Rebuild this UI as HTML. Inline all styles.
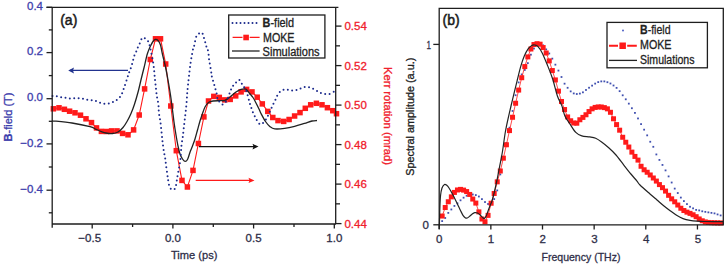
<!DOCTYPE html>
<html><head><meta charset="utf-8"><style>
html,body{margin:0;padding:0;background:#fff;overflow:hidden}
svg{display:block}
text{font-family:"Liberation Sans",sans-serif}
</style></head><body>
<svg width="725" height="265" viewBox="0 0 725 265">
<rect width="725" height="265" fill="#fff"/>
<path d="M53.4,108.8 L59,107.8 L64.4,109.3 L69.6,111.2 L75,112.8 L80.5,115.2 L86,118.8 L91.5,122.6 L96.5,127.9 L101.4,131.4 L106.5,131.5 L111.6,130.9 L117,130.9 L122.6,133.4 L128,134.8 L133.6,129.9 L139.2,115 L144.6,88.9 L150.3,59.5 L155.5,38.8 L160.5,38.8 L165.7,64 L170.8,106 L176.3,150.7 L182,180.4 L187.4,187 L193,170.4 L198.4,143.5 L203.9,116.9 L208.5,101 L213.8,96.4 L219.3,97.4 L224.8,99.9 L230.2,99.4 L235.7,95.9 L241.1,91.9 L246.6,89.4 L252,91.9 L257.2,97.2 L262.3,103.9 L267.8,111.4 L272.8,117.5 L278,120.6 L283.7,121.4 L289.1,119.5 L294.6,116 L300,112.6 L305.3,108.3 L310.7,104.8 L316.4,103.3 L322,104.8 L327.4,107.7 L332.8,110.7 L336.5,113.7" fill="none" stroke="#ff1a1a" stroke-width="1.1"/>
<g fill="#ff1a1a"><rect x="50.65" y="106.05" width="5.5" height="5.5"/><rect x="56.25" y="105.05" width="5.5" height="5.5"/><rect x="61.65" y="106.55" width="5.5" height="5.5"/><rect x="66.85" y="108.45" width="5.5" height="5.5"/><rect x="72.25" y="110.05" width="5.5" height="5.5"/><rect x="77.75" y="112.45" width="5.5" height="5.5"/><rect x="83.25" y="116.05" width="5.5" height="5.5"/><rect x="88.75" y="119.85" width="5.5" height="5.5"/><rect x="93.75" y="125.15" width="5.5" height="5.5"/><rect x="98.65" y="128.65" width="5.5" height="5.5"/><rect x="103.75" y="128.75" width="5.5" height="5.5"/><rect x="108.85" y="128.15" width="5.5" height="5.5"/><rect x="114.25" y="128.15" width="5.5" height="5.5"/><rect x="119.85" y="130.65" width="5.5" height="5.5"/><rect x="125.25" y="132.05" width="5.5" height="5.5"/><rect x="130.85" y="127.15" width="5.5" height="5.5"/><rect x="136.45" y="112.25" width="5.5" height="5.5"/><rect x="141.85" y="86.15" width="5.5" height="5.5"/><rect x="147.55" y="56.75" width="5.5" height="5.5"/><rect x="152.75" y="36.05" width="5.5" height="5.5"/><rect x="157.75" y="36.05" width="5.5" height="5.5"/><rect x="162.95" y="61.25" width="5.5" height="5.5"/><rect x="168.05" y="103.25" width="5.5" height="5.5"/><rect x="173.55" y="147.95" width="5.5" height="5.5"/><rect x="179.25" y="177.65" width="5.5" height="5.5"/><rect x="184.65" y="184.25" width="5.5" height="5.5"/><rect x="190.25" y="167.65" width="5.5" height="5.5"/><rect x="195.65" y="140.75" width="5.5" height="5.5"/><rect x="201.15" y="114.15" width="5.5" height="5.5"/><rect x="205.75" y="98.25" width="5.5" height="5.5"/><rect x="211.05" y="93.65" width="5.5" height="5.5"/><rect x="216.55" y="94.65" width="5.5" height="5.5"/><rect x="222.05" y="97.15" width="5.5" height="5.5"/><rect x="227.45" y="96.65" width="5.5" height="5.5"/><rect x="232.95" y="93.15" width="5.5" height="5.5"/><rect x="238.35" y="89.15" width="5.5" height="5.5"/><rect x="243.85" y="86.65" width="5.5" height="5.5"/><rect x="249.25" y="89.15" width="5.5" height="5.5"/><rect x="254.45" y="94.45" width="5.5" height="5.5"/><rect x="259.55" y="101.15" width="5.5" height="5.5"/><rect x="265.05" y="108.65" width="5.5" height="5.5"/><rect x="270.05" y="114.75" width="5.5" height="5.5"/><rect x="275.25" y="117.85" width="5.5" height="5.5"/><rect x="280.95" y="118.65" width="5.5" height="5.5"/><rect x="286.35" y="116.75" width="5.5" height="5.5"/><rect x="291.85" y="113.25" width="5.5" height="5.5"/><rect x="297.25" y="109.85" width="5.5" height="5.5"/><rect x="302.55" y="105.55" width="5.5" height="5.5"/><rect x="307.95" y="102.05" width="5.5" height="5.5"/><rect x="313.65" y="100.55" width="5.5" height="5.5"/><rect x="319.25" y="102.05" width="5.5" height="5.5"/><rect x="324.65" y="104.95" width="5.5" height="5.5"/><rect x="330.05" y="107.95" width="5.5" height="5.5"/><rect x="333.75" y="110.95" width="5.5" height="5.5"/></g>
<path d="M52,120.8 C55.33,121.17 65.67,122.02 72,123 C78.33,123.98 86,125.65 90,126.7 C94,127.75 94.1,128.48 96,129.3 C97.9,130.12 99.73,130.98 101.4,131.6 C103.07,132.22 104.15,132.68 106,133 C107.85,133.32 110.5,133.67 112.5,133.5 C114.5,133.33 116.25,133 118,132 C119.75,131 121.5,129.25 123,127.5 C124.5,125.75 125.67,123.83 127,121.5 C128.33,119.17 129.77,116.33 131,113.5 C132.23,110.67 133.2,108.17 134.4,104.5 C135.6,100.83 137.07,95.75 138.2,91.5 C139.33,87.25 140.2,83.08 141.2,79 C142.2,74.92 143.18,71.17 144.2,67 C145.22,62.83 146.25,57.5 147.3,54 C148.35,50.5 149.55,48.08 150.5,46 C151.45,43.92 152.2,42.6 153,41.5 C153.8,40.4 154.47,39.57 155.3,39.4 C156.13,39.23 157.13,39.57 158,40.5 C158.87,41.43 159.77,42.75 160.5,45 C161.23,47.25 161.57,50.33 162.4,54 C163.23,57.67 164.57,62.67 165.5,67 C166.43,71.33 167.17,75.33 168,80 C168.83,84.67 169.75,90 170.5,95 C171.25,100 171.92,105.5 172.5,110 C173.08,114.5 173.42,117.83 174,122 C174.58,126.17 175.33,131 176,135 C176.67,139 177.33,142.83 178,146 C178.67,149.17 179.25,151.83 180,154 C180.75,156.17 181.67,157.77 182.5,159 C183.33,160.23 184.17,161.32 185,161.4 C185.83,161.48 186.67,161.03 187.5,159.5 C188.33,157.97 189.17,154.45 190,152.2 C190.83,149.95 191.67,148.2 192.5,146 C193.33,143.8 194.17,141.67 195,139 C195.83,136.33 196.67,133 197.5,130 C198.33,127 199.25,123.5 200,121 C200.75,118.5 201.17,117.33 202,115 C202.83,112.67 203.92,109.08 205,107 C206.08,104.92 207.17,103.5 208.5,102.5 C209.83,101.5 211.08,101.3 213,101 C214.92,100.7 218,100.8 220,100.7 C222,100.6 223.33,101.02 225,100.4 C226.67,99.78 228.17,98.4 230,97 C231.83,95.6 234.17,93.28 236,92 C237.83,90.72 239.33,89.77 241,89.3 C242.67,88.83 244.5,88.42 246,89.2 C247.5,89.98 248.83,92.62 250,94 C251.17,95.38 252,96 253,97.5 C254,99 255,101.08 256,103 C257,104.92 258.17,107.25 259,109 C259.83,110.75 259.92,111.42 261,113.5 C262.08,115.58 264.03,119.35 265.5,121.5 C266.97,123.65 268.25,125.17 269.8,126.4 C271.35,127.63 272.32,128.57 274.8,128.9 C277.28,129.23 281.4,128.82 284.7,128.4 C288,127.98 291.3,127.23 294.6,126.4 C297.9,125.57 301.6,124.3 304.5,123.4 C307.4,122.5 309.92,121.48 312,121 C314.08,120.52 316.17,120.58 317,120.5" fill="none" stroke="#222" stroke-width="1.3"/>
<path d="M52.5,96 C53.08,96 54.68,95.8 56,96 C57.32,96.2 58.95,96.95 60.4,97.2 C61.85,97.45 63.27,97.3 64.7,97.5 C66.13,97.7 67.55,98.27 69,98.4 C70.45,98.53 71.93,98.32 73.4,98.3 C74.87,98.28 76.33,98.25 77.8,98.3 C79.27,98.35 80.72,98.37 82.2,98.6 C83.68,98.83 85.18,99.43 86.7,99.7 C88.22,99.97 89.82,99.98 91.3,100.2 C92.78,100.42 94.18,100.6 95.6,101 C97.02,101.4 98.4,102.17 99.8,102.6 C101.2,103.03 102.53,103.43 104,103.6 C105.47,103.77 107.07,103.87 108.6,103.6 C110.13,103.33 111.75,102.68 113.2,102 C114.65,101.32 116,100.57 117.3,99.5 C118.6,98.43 119.88,97.52 121,95.6 C122.12,93.68 122.92,91.05 124,88 C125.08,84.95 126.67,79.82 127.5,77.3 C128.33,74.78 128.5,74.3 129,72.9 C129.5,71.5 130,70.32 130.5,68.9 C131,67.48 131.35,66.63 132,64.4 C132.65,62.17 133.65,57.73 134.4,55.5 C135.15,53.27 135.9,52.42 136.5,51 C137.1,49.58 137.38,48.42 138,47 C138.62,45.58 139.45,44.05 140.2,42.5 C140.95,40.95 141.45,38.2 142.5,37.7 C143.55,37.2 145.45,38.7 146.5,39.5 C147.55,40.3 148.22,41.25 148.8,42.5 C149.38,43.75 149.63,45.5 150,47 C150.37,48.5 150.53,49.25 151,51.5 C151.47,53.75 152.3,57.6 152.8,60.5 C153.3,63.4 153.67,66.02 154,68.9 C154.33,71.78 154.5,74.8 154.8,77.8 C155.1,80.8 155.47,83.88 155.8,86.9 C156.13,89.92 156.37,92.97 156.8,95.9 C157.23,98.83 158.05,101.67 158.4,104.5 C158.75,107.33 158.57,110.02 158.9,112.9 C159.23,115.78 159.92,118.13 160.4,121.8 C160.88,125.47 161.4,131.23 161.8,134.9 C162.2,138.57 162.43,140.87 162.8,143.8 C163.17,146.73 163.63,150.3 164,152.5 C164.37,154.7 164.67,154.92 165,157 C165.33,159.08 165.62,162.13 166,165 C166.38,167.87 166.92,171.53 167.3,174.2 C167.68,176.87 167.85,178.73 168.3,181 C168.75,183.27 169.08,186.35 170,187.8 C170.92,189.25 172.83,189.95 173.8,189.7 C174.77,189.45 175.22,188.37 175.8,186.3 C176.38,184.23 176.77,180.35 177.3,177.3 C177.83,174.25 178.48,170.98 179,168 C179.52,165.02 180,163.07 180.4,159.4 C180.8,155.73 181.02,149.67 181.4,146 C181.78,142.33 182.32,140.32 182.7,137.4 C183.08,134.48 183.37,131.42 183.7,128.5 C184.03,125.58 184.37,122.75 184.7,119.9 C185.03,117.05 185.38,114.33 185.7,111.4 C186.02,108.47 186.35,105.3 186.6,102.3 C186.85,99.3 186.97,96.28 187.2,93.4 C187.43,90.52 187.7,87.9 188,85 C188.3,82.1 188.58,79.6 189,76 C189.42,72.4 189.85,67.77 190.5,63.4 C191.15,59.03 192.25,52.88 192.9,49.8 C193.55,46.72 193.82,47.13 194.4,44.9 C194.98,42.67 195.32,38.47 196.4,36.4 C197.48,34.33 199.75,32.72 200.9,32.5 C202.05,32.28 202.73,33.95 203.3,35.1 C203.87,36.25 203.88,37.93 204.3,39.4 C204.72,40.87 205.38,42.42 205.8,43.9 C206.22,45.38 206.38,47.02 206.8,48.3 C207.22,49.58 207.93,49.82 208.3,51.6 C208.67,53.38 208.55,55.85 209,59 C209.45,62.15 210.58,67.83 211,70.5 C211.42,73.17 211.25,73.58 211.5,75 C211.75,76.42 212.08,77.5 212.5,79 C212.92,80.5 213.58,82.5 214,84 C214.42,85.5 214.6,86.73 215,88 C215.4,89.27 216.07,90.13 216.4,91.6 C216.73,93.07 216.68,95.35 217,96.8 C217.32,98.25 217.38,99.02 218.3,100.3 C219.22,101.58 221.05,104.55 222.5,104.5 C223.95,104.45 225.7,102.2 227,100 C228.3,97.8 229.42,93.48 230.3,91.3 C231.18,89.12 231.47,88.22 232.3,86.9 C233.13,85.58 234.13,84.57 235.3,83.4 C236.47,82.23 238.15,79.73 239.3,79.9 C240.45,80.07 241.3,83 242.2,84.4 C243.1,85.8 243.9,86.87 244.7,88.3 C245.5,89.73 246.22,90.72 247,93 C247.78,95.28 248.73,99.67 249.4,102 C250.07,104.33 250.5,105.5 251,107 C251.5,108.5 251.83,109.6 252.4,111 C252.97,112.4 253.73,114 254.4,115.4 C255.07,116.8 255.4,117.9 256.4,119.4 C257.4,120.9 259,124.13 260.4,124.4 C261.8,124.67 263.65,122.23 264.8,121 C265.95,119.77 266.55,118.35 267.3,117 C268.05,115.65 268.63,114.33 269.3,112.9 C269.97,111.47 270.63,109.88 271.3,108.4 C271.97,106.92 272.62,105.42 273.3,104 C273.98,102.58 274.72,101.33 275.4,99.9 C276.08,98.47 276.47,96.88 277.4,95.4 C278.33,93.92 279.58,92 281,91 C282.42,90 284.35,89.5 285.9,89.4 C287.45,89.3 288.82,90.23 290.3,90.4 C291.78,90.57 293.38,90.57 294.8,90.4 C296.22,90.23 297.38,89.95 298.8,89.4 C300.22,88.85 301.82,87.48 303.3,87.1 C304.78,86.72 306.3,86.95 307.7,87.1 C309.1,87.25 310.28,87.45 311.7,88 C313.12,88.55 314.72,89.58 316.2,90.4 C317.68,91.22 319.12,92.32 320.6,92.9 C322.08,93.48 323.6,93.73 325.1,93.9 C326.6,94.07 328.03,94.32 329.6,93.9 C331.17,93.48 333.68,91.82 334.5,91.4" fill="none" stroke="#1b2a8c" stroke-width="2" stroke-linecap="round" stroke-dasharray="0 4.4"/>
<path d="M128,70.4 H70" stroke="#22338f" stroke-width="1.4"/><path d="M68.2,70.4 L74,67.4 L73,70.4 L74,73.4 Z" fill="#22338f"/>
<path d="M199,146.6 H254" stroke="#111" stroke-width="1.3"/><path d="M258.5,146.6 L252.5,143.8 L253.5,146.6 L252.5,149.4 Z" fill="#111"/>
<path d="M195.7,180.4 H250" stroke="#ff1a1a" stroke-width="1.2"/><path d="M254.5,180.4 L248.5,177.8 L249.5,180.4 L248.5,183 Z" fill="#ff1a1a"/>
<g fill="#4050b0"><rect x="441.26" y="220.2" width="1.8" height="1.8"/><rect x="444.32" y="217.09" width="1.8" height="1.8"/><rect x="447.38" y="211.99" width="1.8" height="1.8"/><rect x="450.44" y="208.57" width="1.8" height="1.8"/><rect x="453.5" y="205.03" width="1.8" height="1.8"/><rect x="456.56" y="202.45" width="1.8" height="1.8"/><rect x="459.62" y="199.42" width="1.8" height="1.8"/><rect x="462.68" y="196.78" width="1.8" height="1.8"/><rect x="465.74" y="194.85" width="1.8" height="1.8"/><rect x="468.8" y="193.84" width="1.8" height="1.8"/><rect x="471.86" y="193.58" width="1.8" height="1.8"/><rect x="474.92" y="194.17" width="1.8" height="1.8"/><rect x="477.98" y="195.61" width="1.8" height="1.8"/><rect x="481.04" y="198.22" width="1.8" height="1.8"/><rect x="484.1" y="201.15" width="1.8" height="1.8"/><rect x="487.16" y="203.1" width="1.8" height="1.8"/><rect x="490.22" y="201.51" width="1.8" height="1.8"/><rect x="493.28" y="198.16" width="1.8" height="1.8"/><rect x="496.34" y="189.52" width="1.8" height="1.8"/><rect x="499.4" y="173.54" width="1.8" height="1.8"/><rect x="502.46" y="157.56" width="1.8" height="1.8"/><rect x="505.52" y="141.99" width="1.8" height="1.8"/><rect x="508.58" y="126.78" width="1.8" height="1.8"/><rect x="511.64" y="110.06" width="1.8" height="1.8"/><rect x="514.7" y="94.31" width="1.8" height="1.8"/><rect x="517.76" y="81.54" width="1.8" height="1.8"/><rect x="520.82" y="73.51" width="1.8" height="1.8"/><rect x="523.88" y="69.05" width="1.8" height="1.8"/><rect x="526.94" y="62.22" width="1.8" height="1.8"/><rect x="530" y="53.78" width="1.8" height="1.8"/><rect x="533.06" y="47.63" width="1.8" height="1.8"/><rect x="536.12" y="44.24" width="1.8" height="1.8"/><rect x="539.18" y="43.1" width="1.8" height="1.8"/><rect x="542.24" y="44.45" width="1.8" height="1.8"/><rect x="545.3" y="48.5" width="1.8" height="1.8"/><rect x="548.36" y="52.59" width="1.8" height="1.8"/><rect x="551.42" y="57.72" width="1.8" height="1.8"/><rect x="554.48" y="63.76" width="1.8" height="1.8"/><rect x="557.54" y="69.68" width="1.8" height="1.8"/><rect x="560.6" y="76.1" width="1.8" height="1.8"/><rect x="563.66" y="82.78" width="1.8" height="1.8"/><rect x="566.72" y="86.9" width="1.8" height="1.8"/><rect x="569.78" y="90.48" width="1.8" height="1.8"/><rect x="572.84" y="92.52" width="1.8" height="1.8"/><rect x="575.9" y="93.1" width="1.8" height="1.8"/><rect x="578.96" y="92.68" width="1.8" height="1.8"/><rect x="582.02" y="91.43" width="1.8" height="1.8"/><rect x="585.08" y="89.07" width="1.8" height="1.8"/><rect x="588.14" y="86.83" width="1.8" height="1.8"/><rect x="591.2" y="84.73" width="1.8" height="1.8"/><rect x="594.26" y="82.71" width="1.8" height="1.8"/><rect x="597.32" y="81.19" width="1.8" height="1.8"/><rect x="600.38" y="80.49" width="1.8" height="1.8"/><rect x="603.44" y="80.49" width="1.8" height="1.8"/><rect x="606.5" y="81.3" width="1.8" height="1.8"/><rect x="609.56" y="82.59" width="1.8" height="1.8"/><rect x="612.62" y="84.59" width="1.8" height="1.8"/><rect x="615.68" y="86.98" width="1.8" height="1.8"/><rect x="618.74" y="90.25" width="1.8" height="1.8"/><rect x="621.8" y="94.4" width="1.8" height="1.8"/><rect x="624.86" y="98.4" width="1.8" height="1.8"/><rect x="627.92" y="102.74" width="1.8" height="1.8"/><rect x="630.98" y="107.32" width="1.8" height="1.8"/><rect x="634.04" y="112" width="1.8" height="1.8"/><rect x="637.1" y="117.55" width="1.8" height="1.8"/><rect x="640.16" y="123.21" width="1.8" height="1.8"/><rect x="643.22" y="128.77" width="1.8" height="1.8"/><rect x="646.28" y="134.45" width="1.8" height="1.8"/><rect x="649.34" y="140.86" width="1.8" height="1.8"/><rect x="652.4" y="145.91" width="1.8" height="1.8"/><rect x="655.46" y="153.54" width="1.8" height="1.8"/><rect x="658.52" y="159.03" width="1.8" height="1.8"/><rect x="661.58" y="164.04" width="1.8" height="1.8"/><rect x="664.64" y="169.49" width="1.8" height="1.8"/><rect x="667.7" y="175.5" width="1.8" height="1.8"/><rect x="670.76" y="181.62" width="1.8" height="1.8"/><rect x="673.82" y="187.7" width="1.8" height="1.8"/><rect x="676.88" y="192.12" width="1.8" height="1.8"/><rect x="679.94" y="196.68" width="1.8" height="1.8"/><rect x="683" y="200.18" width="1.8" height="1.8"/><rect x="686.06" y="203.18" width="1.8" height="1.8"/><rect x="689.12" y="205.87" width="1.8" height="1.8"/><rect x="692.18" y="207.44" width="1.8" height="1.8"/><rect x="695.24" y="208.98" width="1.8" height="1.8"/><rect x="698.3" y="209.5" width="1.8" height="1.8"/><rect x="701.36" y="210.39" width="1.8" height="1.8"/><rect x="704.42" y="210.95" width="1.8" height="1.8"/><rect x="707.48" y="211.46" width="1.8" height="1.8"/><rect x="710.54" y="211.97" width="1.8" height="1.8"/><rect x="713.6" y="212.48" width="1.8" height="1.8"/><rect x="716.66" y="213.52" width="1.8" height="1.8"/><rect x="719.72" y="214.53" width="1.8" height="1.8"/></g>
<path d="M442.16,216.04 L445.22,207.52 L448.28,201.76 L451.34,196.86 L454.4,192.43 L457.46,189.97 L460.52,189.39 L463.58,190.1 L466.64,191.57 L469.7,194.44 L472.76,199.06 L475.82,203.08 L478.88,211.89 L481.94,219.01 L485,221.77 L488.06,215.37 L491.12,203.23 L494.18,193.47 L497.24,181.85 L500.3,171 L503.36,158.17 L506.42,144.76 L509.48,130.59 L512.54,117.27 L515.6,103.25 L518.66,90.07 L521.72,77.71 L524.78,66.57 L527.84,56.89 L530.9,49 L533.96,44.54 L537.02,43.7 L540.08,44.19 L543.14,47.56 L546.2,53 L549.26,60.89 L552.32,70.56 L555.38,79.93 L558.44,91.14 L561.5,101.5 L564.56,109.55 L567.62,116.94 L570.68,120.78 L573.74,123.02 L576.8,123.2 L579.86,119.75 L582.92,117.4 L585.98,114.75 L589.04,111.55 L592.1,108.83 L595.16,107.41 L598.22,106.95 L601.28,106.98 L604.34,107.62 L607.4,108.85 L610.46,112.29 L613.52,118.77 L616.58,124.6 L619.64,130.19 L622.7,137.27 L625.76,142.23 L628.82,147.03 L631.88,152.12 L634.94,156.42 L638,160.09 L641.06,166.27 L644.12,169.78 L647.18,172.26 L650.24,174.98 L653.3,177.99 L656.36,181.07 L659.42,184.59 L662.48,187.66 L665.54,191.09 L668.6,195.32 L671.66,198.84 L674.72,201.8 L677.78,205.03 L680.84,208.25 L683.9,210.54 L686.96,212.14 L690.02,213.38 L693.08,214.78 L696.14,216.69 L699.2,218.97 L702.26,220.78 L705.32,221.94 L708.38,222.45 L711.44,222.64 L714.5,222.76 L717.56,222.85 L720.62,222.93" fill="none" stroke="#ff1a1a" stroke-width="0.8"/>
<g fill="#ff1a1a"><rect x="439.66" y="213.54" width="5" height="5"/><rect x="442.72" y="205.02" width="5" height="5"/><rect x="445.78" y="199.26" width="5" height="5"/><rect x="448.84" y="194.36" width="5" height="5"/><rect x="451.9" y="189.93" width="5" height="5"/><rect x="454.96" y="187.47" width="5" height="5"/><rect x="458.02" y="186.89" width="5" height="5"/><rect x="461.08" y="187.6" width="5" height="5"/><rect x="464.14" y="189.07" width="5" height="5"/><rect x="467.2" y="191.94" width="5" height="5"/><rect x="470.26" y="196.56" width="5" height="5"/><rect x="473.32" y="200.58" width="5" height="5"/><rect x="476.38" y="209.39" width="5" height="5"/><rect x="479.44" y="216.51" width="5" height="5"/><rect x="482.5" y="219.27" width="5" height="5"/><rect x="485.56" y="212.87" width="5" height="5"/><rect x="488.62" y="200.73" width="5" height="5"/><rect x="491.68" y="190.97" width="5" height="5"/><rect x="494.74" y="179.35" width="5" height="5"/><rect x="497.8" y="168.5" width="5" height="5"/><rect x="500.86" y="155.67" width="5" height="5"/><rect x="503.92" y="142.26" width="5" height="5"/><rect x="506.98" y="128.09" width="5" height="5"/><rect x="510.04" y="114.77" width="5" height="5"/><rect x="513.1" y="100.75" width="5" height="5"/><rect x="516.16" y="87.57" width="5" height="5"/><rect x="519.22" y="75.21" width="5" height="5"/><rect x="522.28" y="64.07" width="5" height="5"/><rect x="525.34" y="54.39" width="5" height="5"/><rect x="528.4" y="46.5" width="5" height="5"/><rect x="531.46" y="42.04" width="5" height="5"/><rect x="534.52" y="41.2" width="5" height="5"/><rect x="537.58" y="41.69" width="5" height="5"/><rect x="540.64" y="45.06" width="5" height="5"/><rect x="543.7" y="50.5" width="5" height="5"/><rect x="546.76" y="58.39" width="5" height="5"/><rect x="549.82" y="68.06" width="5" height="5"/><rect x="552.88" y="77.43" width="5" height="5"/><rect x="555.94" y="88.64" width="5" height="5"/><rect x="559" y="99" width="5" height="5"/><rect x="562.06" y="107.05" width="5" height="5"/><rect x="565.12" y="114.44" width="5" height="5"/><rect x="568.18" y="118.28" width="5" height="5"/><rect x="571.24" y="120.52" width="5" height="5"/><rect x="574.3" y="120.7" width="5" height="5"/><rect x="577.36" y="117.25" width="5" height="5"/><rect x="580.42" y="114.9" width="5" height="5"/><rect x="583.48" y="112.25" width="5" height="5"/><rect x="586.54" y="109.05" width="5" height="5"/><rect x="589.6" y="106.33" width="5" height="5"/><rect x="592.66" y="104.91" width="5" height="5"/><rect x="595.72" y="104.45" width="5" height="5"/><rect x="598.78" y="104.48" width="5" height="5"/><rect x="601.84" y="105.12" width="5" height="5"/><rect x="604.9" y="106.35" width="5" height="5"/><rect x="607.96" y="109.79" width="5" height="5"/><rect x="611.02" y="116.27" width="5" height="5"/><rect x="614.08" y="122.1" width="5" height="5"/><rect x="617.14" y="127.69" width="5" height="5"/><rect x="620.2" y="134.77" width="5" height="5"/><rect x="623.26" y="139.73" width="5" height="5"/><rect x="626.32" y="144.53" width="5" height="5"/><rect x="629.38" y="149.62" width="5" height="5"/><rect x="632.44" y="153.92" width="5" height="5"/><rect x="635.5" y="157.59" width="5" height="5"/><rect x="638.56" y="163.77" width="5" height="5"/><rect x="641.62" y="167.28" width="5" height="5"/><rect x="644.68" y="169.76" width="5" height="5"/><rect x="647.74" y="172.48" width="5" height="5"/><rect x="650.8" y="175.49" width="5" height="5"/><rect x="653.86" y="178.57" width="5" height="5"/><rect x="656.92" y="182.09" width="5" height="5"/><rect x="659.98" y="185.16" width="5" height="5"/><rect x="663.04" y="188.59" width="5" height="5"/><rect x="666.1" y="192.82" width="5" height="5"/><rect x="669.16" y="196.34" width="5" height="5"/><rect x="672.22" y="199.3" width="5" height="5"/><rect x="675.28" y="202.53" width="5" height="5"/><rect x="678.34" y="205.75" width="5" height="5"/><rect x="681.4" y="208.04" width="5" height="5"/><rect x="684.46" y="209.64" width="5" height="5"/><rect x="687.52" y="210.88" width="5" height="5"/><rect x="690.58" y="212.28" width="5" height="5"/><rect x="693.64" y="214.19" width="5" height="5"/><rect x="696.7" y="216.47" width="5" height="5"/><rect x="699.76" y="218.28" width="5" height="5"/><rect x="702.82" y="219.44" width="5" height="5"/><rect x="705.88" y="219.95" width="5" height="5"/><rect x="708.94" y="220.14" width="5" height="5"/><rect x="712" y="220.26" width="5" height="5"/><rect x="715.06" y="220.35" width="5" height="5"/><rect x="718.12" y="220.43" width="5" height="5"/></g>
<path d="M439.4,224.5 C439.47,222.08 439.62,214.75 439.8,210 C439.98,205.25 440.13,199.67 440.5,196 C440.87,192.33 441.33,189.92 442,188 C442.67,186.08 443.67,184.92 444.5,184.5 C445.33,184.08 446.25,184.92 447,185.5 C447.75,186.08 448,186.42 449,188 C450,189.58 451.6,192.33 453,195 C454.4,197.67 456.15,201.42 457.4,204 C458.65,206.58 459.57,208.62 460.5,210.5 C461.43,212.38 462.22,214.1 463,215.3 C463.78,216.5 464.48,217.25 465.2,217.7 C465.92,218.15 466.58,218.22 467.3,218 C468.02,217.78 468.72,217.03 469.5,216.4 C470.28,215.77 471.13,214.82 472,214.2 C472.87,213.58 473.78,212.9 474.7,212.7 C475.62,212.5 476.62,212.65 477.5,213 C478.38,213.35 479.17,214.07 480,214.8 C480.83,215.53 481.75,216.8 482.5,217.4 C483.25,218 483.87,218.67 484.5,218.4 C485.13,218.13 485.68,217.12 486.3,215.8 C486.92,214.48 487.53,212.3 488.2,210.5 C488.87,208.7 489.57,206.92 490.3,205 C491.03,203.08 491.55,202.83 492.6,199 C493.65,195.17 495.45,187.33 496.6,182 C497.75,176.67 498.53,172 499.5,167 C500.47,162 501.37,158.17 502.4,152 C503.43,145.83 504.27,137.67 505.7,130 C507.13,122.33 509.07,114.33 511,106 C512.93,97.67 515.65,86.68 517.3,80 C518.95,73.32 519.73,69.9 520.9,65.9 C522.07,61.9 523.07,58.87 524.3,56 C525.53,53.13 527.05,50.47 528.3,48.7 C529.55,46.93 530.72,46.02 531.8,45.4 C532.88,44.78 533.8,44.83 534.8,45 C535.8,45.17 536.57,45.08 537.8,46.4 C539.03,47.72 540.55,49.65 542.2,52.9 C543.85,56.15 545.97,61.58 547.7,65.9 C549.43,70.22 550.98,73.78 552.6,78.8 C554.22,83.82 555.85,91.48 557.4,96 C558.95,100.52 560.65,102.57 561.9,105.9 C563.15,109.23 563.57,113 564.9,116 C566.23,119 568.08,121.17 569.9,123.9 C571.72,126.63 573.82,130.4 575.8,132.4 C577.78,134.4 579.48,135.15 581.8,135.9 C584.12,136.65 587.38,136.5 589.7,136.9 C592.02,137.3 593.72,137.45 595.7,138.3 C597.68,139.15 599.38,140.38 601.6,142 C603.82,143.62 606.6,145.83 609,148 C611.4,150.17 613.5,152.12 616,155 C618.5,157.88 621.52,162.13 624,165.3 C626.48,168.47 628.77,171.4 630.9,174 C633.03,176.6 635.28,179.07 636.8,180.9 C638.32,182.73 637.8,182.82 640,185 C642.2,187.18 647.17,191.5 650,194 C652.83,196.5 654.67,198 657,200 C659.33,202 661.75,204.17 664,206 C666.25,207.83 668.33,209.4 670.5,211 C672.67,212.6 674.92,214.33 677,215.6 C679.08,216.87 680.83,217.8 683,218.6 C685.17,219.4 687.67,219.97 690,220.4 C692.33,220.83 694.5,221.02 697,221.2 C699.5,221.38 700.67,221.43 705,221.5 C709.33,221.57 720,221.58 723,221.6" fill="none" stroke="#222" stroke-width="1.2"/>
<g fill="none" stroke="#1e1e1e" stroke-width="1.3">
<path d="M46.5,7.35 H338.4 M335.7,7.35 V224 M52.2,7.35 V227.7 M52.2,224 H336"/>
<path d="M46.5,7.3 H52.2"/>
<path d="M46.5,52.6 H52.2"/>
<path d="M46.5,98.7 H52.2"/>
<path d="M46.5,143.9 H52.2"/>
<path d="M46.5,190.2 H52.2"/>
<path d="M48.8,29.9 H52.2"/>
<path d="M48.8,75.6 H52.2"/>
<path d="M48.8,121.3 H52.2"/>
<path d="M48.8,167 H52.2"/>
<path d="M48.8,212.8 H52.2"/>
<path d="M335.7,26.1 H341.5"/>
<path d="M335.7,65.6 H341.5"/>
<path d="M335.7,105.1 H341.5"/>
<path d="M335.7,144.6 H341.5"/>
<path d="M335.7,184.1 H341.5"/>
<path d="M335.7,223.6 H341.5"/>
<path d="M335.7,45.85 H340"/>
<path d="M335.7,85.35 H340"/>
<path d="M335.7,124.85 H340"/>
<path d="M335.7,164.35 H340"/>
<path d="M335.7,203.85 H340"/>
<path d="M92.2,224 V228.5"/>
<path d="M172.9,224 V228.5"/>
<path d="M253.6,224 V228.5"/>
<path d="M334.3,224 V228.5"/>
<path d="M132.6,224 V227"/>
<path d="M213.3,224 V227"/>
<path d="M294,224 V227"/>
</g>
<g fill="none" stroke="#1e1e1e" stroke-width="1.3">
<path d="M439.2,8.4 H723.3 V224.8 H439.2 Z M439.2,224.8 V229"/>
<path d="M433.3,44.4 H439.2"/><path d="M433.3,224.8 H439.2"/>
<path d="M439.2,224.8 V229.5"/>
<path d="M490.85,224.8 V229.5"/>
<path d="M542.5,224.8 V229.5"/>
<path d="M594.15,224.8 V229.5"/>
<path d="M645.8,224.8 V229.5"/>
<path d="M697.45,224.8 V229.5"/>
</g>
<rect x="228.7" y="15" width="96.2" height="43" fill="#fff" stroke="#1e1e1e" stroke-width="1.3"/>
<path d="M232.5,23 H257" stroke="#1b2a8c" stroke-width="2" stroke-linecap="round" stroke-dasharray="0 4"/>
<path d="M232.6,37.4 H242.5 M249.7,37.4 H259.6" stroke="#ff1a1a" stroke-width="1.3"/><rect x="243.3" y="34.7" width="5.6" height="5.6" fill="#ff1a1a"/>
<path d="M232,51 H259.6" stroke="#222" stroke-width="1.3"/>
<rect x="607" y="22.4" width="100.4" height="45.4" fill="#fff" stroke="#1e1e1e" stroke-width="1.3"/>
<circle cx="623" cy="30.5" r="0.9" fill="#3a4fc0"/>
<path d="M609,45.8 H618 M627.2,45.8 H636.8" stroke="#ff1a1a" stroke-width="2"/><rect x="619.4" y="42.5" width="6.5" height="6.5" fill="#ff1a1a"/>
<path d="M609,60.4 H637" stroke="#222" stroke-width="1.3"/>
<text x="43" y="10" font-size="11.5" fill="#3d3dac" stroke="#3d3dac" stroke-width="0.3" text-anchor="end" font-weight="normal" >0.4</text>
<text x="43" y="55.3" font-size="11.5" fill="#3d3dac" stroke="#3d3dac" stroke-width="0.3" text-anchor="end" font-weight="normal" >0.2</text>
<text x="43" y="101.4" font-size="11.5" fill="#3d3dac" stroke="#3d3dac" stroke-width="0.3" text-anchor="end" font-weight="normal" >0.0</text>
<text x="43" y="146.6" font-size="11.5" fill="#3d3dac" stroke="#3d3dac" stroke-width="0.3" text-anchor="end" font-weight="normal" >−0.2</text>
<text x="43" y="192.9" font-size="11.5" fill="#3d3dac" stroke="#3d3dac" stroke-width="0.3" text-anchor="end" font-weight="normal" >−0.4</text>
<text x="344.4" y="30.3" font-size="11.5" fill="#f0202c" stroke="#f0202c" stroke-width="0.3" text-anchor="start" font-weight="normal" >0.54</text>
<text x="344.4" y="69.8" font-size="11.5" fill="#f0202c" stroke="#f0202c" stroke-width="0.3" text-anchor="start" font-weight="normal" >0.52</text>
<text x="344.4" y="109.3" font-size="11.5" fill="#f0202c" stroke="#f0202c" stroke-width="0.3" text-anchor="start" font-weight="normal" >0.50</text>
<text x="344.4" y="148.8" font-size="11.5" fill="#f0202c" stroke="#f0202c" stroke-width="0.3" text-anchor="start" font-weight="normal" >0.48</text>
<text x="344.4" y="188.3" font-size="11.5" fill="#f0202c" stroke="#f0202c" stroke-width="0.3" text-anchor="start" font-weight="normal" >0.46</text>
<text x="344.4" y="227.8" font-size="11.5" fill="#f0202c" stroke="#f0202c" stroke-width="0.3" text-anchor="start" font-weight="normal" >0.44</text>
<text x="89.7" y="242.4" font-size="11.5" fill="#2e2e48" stroke="#2e2e48" stroke-width="0.3" text-anchor="middle" font-weight="normal" >−0.5</text>
<text x="172.9" y="242.4" font-size="11.5" fill="#2e2e48" stroke="#2e2e48" stroke-width="0.3" text-anchor="middle" font-weight="normal" >0.0</text>
<text x="253.6" y="242.4" font-size="11.5" fill="#2e2e48" stroke="#2e2e48" stroke-width="0.3" text-anchor="middle" font-weight="normal" >0.5</text>
<text x="334.3" y="242.4" font-size="11.5" fill="#2e2e48" stroke="#2e2e48" stroke-width="0.3" text-anchor="middle" font-weight="normal" >1.0</text>
<text x="171" y="258.5" font-size="11.5" fill="#2e2e48" stroke="#2e2e48" stroke-width="0.3" text-anchor="start" font-weight="normal" textLength="46.5" lengthAdjust="spacingAndGlyphs">Time (ps)</text>
<text x="439.3" y="243" font-size="11.5" fill="#2e2e48" stroke="#2e2e48" stroke-width="0.3" text-anchor="middle" font-weight="normal" >0</text>
<text x="491.05" y="243" font-size="11.5" fill="#2e2e48" stroke="#2e2e48" stroke-width="0.3" text-anchor="middle" font-weight="normal" >1</text>
<text x="542.8" y="243" font-size="11.5" fill="#2e2e48" stroke="#2e2e48" stroke-width="0.3" text-anchor="middle" font-weight="normal" >2</text>
<text x="594.55" y="243" font-size="11.5" fill="#2e2e48" stroke="#2e2e48" stroke-width="0.3" text-anchor="middle" font-weight="normal" >3</text>
<text x="646.3" y="243" font-size="11.5" fill="#2e2e48" stroke="#2e2e48" stroke-width="0.3" text-anchor="middle" font-weight="normal" >4</text>
<text x="698.05" y="243" font-size="11.5" fill="#2e2e48" stroke="#2e2e48" stroke-width="0.3" text-anchor="middle" font-weight="normal" >5</text>
<text x="541.5" y="260.8" font-size="11.5" fill="#2e2e48" stroke="#2e2e48" stroke-width="0.3" text-anchor="start" font-weight="normal" textLength="79" lengthAdjust="spacingAndGlyphs">Frequency (THz)</text>
<text x="431" y="48.6" font-size="11.5" fill="#2e2e48" stroke="#2e2e48" stroke-width="0.3" text-anchor="end" font-weight="normal" textLength="4.5" lengthAdjust="spacingAndGlyphs">1</text>
<text x="429" y="229" font-size="11.5" fill="#2e2e48" stroke="#2e2e48" stroke-width="0.3" text-anchor="end" font-weight="normal" >0</text>
<text x="60.2" y="24.6" font-size="14" fill="#1a1a1a" stroke="#1a1a1a" stroke-width="0.3" text-anchor="start" font-weight="normal" style="stroke-width:0.5">(a)</text>
<text x="442.5" y="24.6" font-size="14" fill="#1a1a1a" stroke="#1a1a1a" stroke-width="0.3" text-anchor="start" font-weight="normal" style="stroke-width:0.5">(b)</text>
<text x="12" y="117" font-size="11" fill="#3d3dac" stroke="#3d3dac" stroke-width="0.3" text-anchor="middle" font-weight="normal" transform="rotate(-90 12 117)"><tspan font-weight="bold">B</tspan>-field (T)</text>
<text x="384" y="116" font-size="11.5" fill="#f0202c" stroke="#f0202c" stroke-width="0.3" text-anchor="middle" font-weight="normal" textLength="98" lengthAdjust="spacingAndGlyphs" transform="rotate(90 384 116)">Kerr rotation (mrad)</text>
<text x="414.5" y="116.7" font-size="11.5" fill="#222" stroke="#222" stroke-width="0.3" text-anchor="middle" font-weight="normal" textLength="118" lengthAdjust="spacingAndGlyphs" transform="rotate(-90 414.5 116.7)">Spectral amplitude (a.u.)</text>
<text x="262.6" y="27" font-size="12" fill="#222" stroke="#222" stroke-width="0.3" text-anchor="start" font-weight="normal" textLength="31.5" lengthAdjust="spacingAndGlyphs"><tspan font-weight="bold">B</tspan>-field</text>
<text x="263" y="42" font-size="12" fill="#222" stroke="#222" stroke-width="0.3" text-anchor="start" font-weight="normal" textLength="31.5" lengthAdjust="spacingAndGlyphs">MOKE</text>
<text x="262.6" y="56" font-size="12" fill="#222" stroke="#222" stroke-width="0.3" text-anchor="start" font-weight="normal" textLength="57" lengthAdjust="spacingAndGlyphs">Simulations</text>
<text x="640" y="34" font-size="12.5" fill="#222" stroke="#222" stroke-width="0.3" text-anchor="start" font-weight="normal" textLength="30.5" lengthAdjust="spacingAndGlyphs"><tspan font-weight="bold">B</tspan>-field</text>
<text x="640" y="49" font-size="12.5" fill="#222" stroke="#222" stroke-width="0.3" text-anchor="start" font-weight="normal" textLength="31.5" lengthAdjust="spacingAndGlyphs">MOKE</text>
<text x="640" y="63.6" font-size="12.5" fill="#222" stroke="#222" stroke-width="0.3" text-anchor="start" font-weight="normal" textLength="54.5" lengthAdjust="spacingAndGlyphs">Simulations</text>
</svg></body></html>
